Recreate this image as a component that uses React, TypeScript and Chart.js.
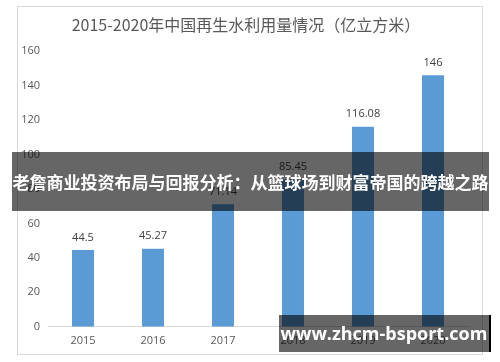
import React, { useEffect, useRef } from "react";
import { Chart, registerables } from "chart.js";

Chart.register(...registerables);

const years = ["2015", "2016", "2017", "2018", "2019", "2020"];
const volumes = [44.5, 45.27, 71.14, 85.45, 116.08, 146];
const valueLabels = ["44.5", "45.27", "71.14", "85.45", "116.08", "146"];
const chartTitle = "2015-2020年中国再生水利用量情况（亿立方米）";
const bannerText = "老詹商业投资布局与回报分析：从篮球场到财富帝国的跨越之路";
const watermarkText = "www.zhcm-bsport.com";

const FONT = "'Open Sans', 'Noto Sans CJK SC', sans-serif";

const framePlugin = {
  id: "frameAndTitle",
  beforeDraw(chart: any) {
    const ctx = chart.ctx;
    ctx.save();
    ctx.fillStyle = "#ffffff";
    ctx.fillRect(0, 0, chart.width, chart.height);
    ctx.strokeStyle = "#d9d9d9";
    ctx.lineWidth = 1;
    ctx.strokeRect(17.5, 6.5, 465, 348);
    ctx.fillStyle = "#595959";
    ctx.font = `16px 'Noto Sans CJK SC', sans-serif`;
    ctx.textAlign = "center";
    ctx.textBaseline = "middle";
    ctx.fillText(chartTitle, 246, 25);
    ctx.restore();
  },
  afterDatasetsDraw(chart: any) {
    const ctx = chart.ctx;
    const meta = chart.getDatasetMeta(0);
    ctx.save();
    ctx.fillStyle = "#404040";
    ctx.font = `11px ${FONT}`;
    ctx.textAlign = "center";
    ctx.textBaseline = "middle";
    meta.data.forEach((bar: any, i: number) => {
      ctx.fillText(valueLabels[i], bar.x, bar.y - 12.5);
    });
    ctx.restore();
  },
};

function BarChart() {
  const ref = useRef<HTMLCanvasElement>(null);
  useEffect(() => {
    if (!ref.current) return;
    const chart = new Chart(ref.current, {
      type: "bar",
      data: {
        labels: years,
        datasets: [
          {
            data: volumes,
            backgroundColor: "#5b9bd5",
            barPercentage: 0.314,
            categoryPercentage: 1,
          },
        ],
      },
      options: {
        animation: false,
        responsive: false,
        maintainAspectRatio: false,
        devicePixelRatio: 1,
        layout: { padding: { top: 51, right: 32, bottom: 8, left: 0 } },
        plugins: {
          legend: { display: false },
          title: { display: false },
          tooltip: { enabled: false },
        },
        scales: {
          x: {
            grid: { display: false, drawTicks: false },
            border: { display: true, color: "#d9d9d9", width: 1 },
            ticks: { color: "#595959", font: { size: 11, family: FONT }, padding: 7 },
          },
          y: {
            min: 0,
            max: 160,
            afterFit: (scale: any) => {
              scale.width = 48;
            },
            grid: { display: false, drawTicks: false },
            border: { display: false },
            ticks: {
              stepSize: 20,
              color: "#595959",
              font: { size: 11, family: FONT },
              padding: 8,
            },
          },
        },
      },
      plugins: [framePlugin],
    });
    return () => chart.destroy();
  }, []);
  return <canvas ref={ref} width={500} height={362} style={{ display: "block" }} />;
}

export default function App() {
  return (
    <div
      style={{
        position: "fixed",
        left: 0,
        top: 0,
        width: 500,
        height: 362,
        overflow: "hidden",
        background: "#fff",
      }}
    >
      <BarChart />
      <div
        style={{
          position: "absolute",
          left: 12,
          top: 152,
          width: 477,
          height: 59,
          background: "rgba(0,0,0,0.6)",
          color: "#fff",
          fontFamily: "'Noto Sans CJK SC', sans-serif",
          fontWeight: 700,
          fontSize: 17,
          lineHeight: "59px",
          textAlign: "center",
          whiteSpace: "nowrap",
        }}
      >
        {bannerText}
      </div>
      <div
        style={{
          position: "absolute",
          left: 279,
          top: 315,
          width: 210,
          height: 37,
          background: "rgba(0,0,0,0.6)",
          borderRight: "2px solid #000",
          color: "#fff",
          fontFamily: "'Open Sans', sans-serif",
          fontWeight: 700,
          fontSize: 18,
          lineHeight: "37px",
          textAlign: "center",
          whiteSpace: "nowrap",
        }}
      >
        {watermarkText}
      </div>
    </div>
  );
}
